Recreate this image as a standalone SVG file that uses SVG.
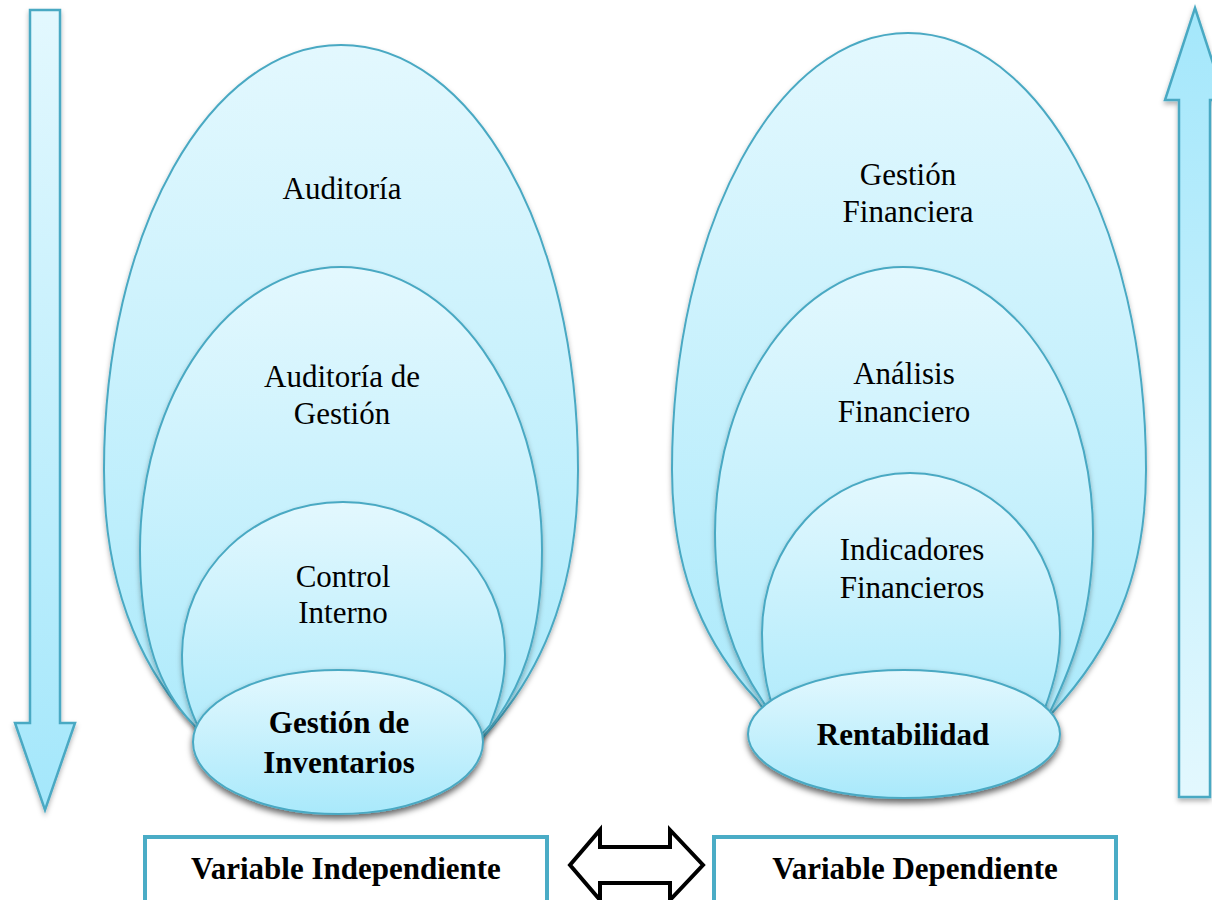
<svg xmlns="http://www.w3.org/2000/svg" width="1212" height="900" viewBox="0 0 1212 900">
  <defs>
    <linearGradient id="gDown" x1="0" y1="0" x2="0" y2="1">
      <stop offset="0" stop-color="#e3f8fe"/>
      <stop offset="1" stop-color="#a9e9fb"/>
    </linearGradient>
    <linearGradient id="gUp" x1="0" y1="0" x2="0" y2="1">
      <stop offset="0" stop-color="#a9e9fb"/>
      <stop offset="1" stop-color="#e3f8fe"/>
    </linearGradient>
    <linearGradient id="gArrowL" gradientUnits="userSpaceOnUse" x1="0" y1="10" x2="0" y2="810">
      <stop offset="0" stop-color="#e3f8fe"/>
      <stop offset="1" stop-color="#a4e7fb"/>
    </linearGradient>
    <linearGradient id="gArrowR" gradientUnits="userSpaceOnUse" x1="0" y1="8" x2="0" y2="797">
      <stop offset="0" stop-color="#a4e7fb"/>
      <stop offset="1" stop-color="#e3f8fe"/>
    </linearGradient>
    <filter id="soft" x="-20%" y="-20%" width="140%" height="140%">
      <feDropShadow dx="0" dy="3" stdDeviation="2.5" flood-color="#000" flood-opacity="0.3"/>
    </filter>
    <filter id="deep" x="-20%" y="-20%" width="140%" height="150%">
      <feDropShadow dx="0" dy="4" stdDeviation="3" flood-color="#000" flood-opacity="0.6"/>
    </filter>
  </defs>
  <style>
    .shell { fill: url(#gDown); stroke: #4aa9c3; stroke-width: 2; filter: url(#soft); }
    .core { fill: url(#gDown); stroke: #4aa9c3; stroke-width: 2; filter: url(#deep); }
    .lbl { font-family: "Liberation Serif", "Times New Roman", serif; font-size: 31px; fill: #000; text-anchor: middle; }
    .bold { font-weight: bold; }
    .box { fill: #fff; stroke: #4aacc6; stroke-width: 4; }
  </style>

  <!-- side arrows -->
  <g id="arrow-down">
    <path d="M30,10 H60 V723 H75 L45,810 L15,723 H30 Z" fill="url(#gArrowL)" stroke="#4aa9c3" stroke-width="2.5" filter="url(#soft)"/>
  </g>
  <g id="arrow-up">
    <path d="M1195,8 L1225,100 H1210 V797 H1179 V100 H1165 Z" fill="url(#gArrowR)" stroke="#4aa9c3" stroke-width="2.5" filter="url(#soft)"/>
  </g>

  <!-- independent variable target -->
  <g id="auditoria">
    <path class="shell" d="M197,728 C150,680 104,600 104,470 C104,230 210,45 341,45 C472,45 578,230 578,470 C578,600 535,680 485,735 C440,790 240,790 197,728 Z"/>
    <text class="lbl" x="342" y="199">Auditoría</text>
  </g>
  <g id="auditoria-gestion">
    <path class="shell" d="M193,724 C160,690 140,640 140,550 C140,395 230,267 341,267 C452,267 542,395 542,550 C542,640 520,690 488,731 C440,790 240,790 193,724 Z"/>
    <text class="lbl" x="342" y="387">Auditoría de</text>
    <text class="lbl" x="342" y="424">Gestión</text>
  </g>
  <g id="control-interno">
    <path class="shell" d="M196,722 C186,700 182,680 182,655 C182,570 254,502 343,502 C432,502 505,570 505,655 C505,680 500,700 490,725 C440,790 240,790 196,722 Z"/>
    <text class="lbl" x="343" y="587">Control</text>
    <text class="lbl" x="343" y="623">Interno</text>
  </g>
  <g id="gestion-inventarios">
    <ellipse class="core" cx="338" cy="742" rx="145" ry="72"/>
    <text class="lbl bold" x="339" y="733">Gestión de</text>
    <text class="lbl bold" x="339" y="773">Inventarios</text>
  </g>

  <!-- dependent variable target -->
  <g id="gestion-financiera">
    <path class="shell" d="M757,700 C710,650 672,580 672,470 C672,225 778,33 908,33 C1038,33 1146,225 1146,470 C1146,580 1110,650 1053,712 C1000,770 800,770 757,700 Z"/>
    <text class="lbl" x="908" y="185">Gestión</text>
    <text class="lbl" x="908" y="222">Financiera</text>
  </g>
  <g id="analisis-financiero">
    <path class="shell" d="M762,700 C735,660 715,610 715,533 C715,387 800,267 903,267 C1008,267 1093,387 1093,533 C1093,610 1075,660 1050,712 C1000,770 800,770 762,700 Z"/>
    <text class="lbl" x="904" y="384">Análisis</text>
    <text class="lbl" x="904" y="422">Financiero</text>
  </g>
  <g id="indicadores-financieros">
    <path class="shell" d="M770,698 C765,680 762,660 762,633 C762,545 828,473 910,473 C992,473 1060,545 1060,633 C1060,660 1055,680 1045,708 C1000,770 800,770 770,698 Z"/>
    <text class="lbl" x="912" y="560">Indicadores</text>
    <text class="lbl" x="912" y="598">Financieros</text>
  </g>
  <g id="rentabilidad">
    <ellipse class="core" cx="904" cy="734" rx="156" ry="64"/>
    <text class="lbl bold" x="903" y="745">Rentabilidad</text>
  </g>

  <!-- variable labels -->
  <g id="variable-independiente">
    <rect class="box" x="145" y="837" width="402" height="70"/>
    <text class="lbl bold" x="346" y="879">Variable Independiente</text>
  </g>
  <g id="variable-dependiente">
    <rect class="box" x="714" y="837" width="402" height="70"/>
    <text class="lbl bold" x="915" y="879">Variable Dependiente</text>
  </g>

  <g id="connectors">
    <path d="M570,865 L600,830 V847 H670 V830 L703,865 L670,900 V883 H600 V900 Z" fill="#fff" stroke="#000" stroke-width="4" stroke-linejoin="miter"/>
  </g>
</svg>
